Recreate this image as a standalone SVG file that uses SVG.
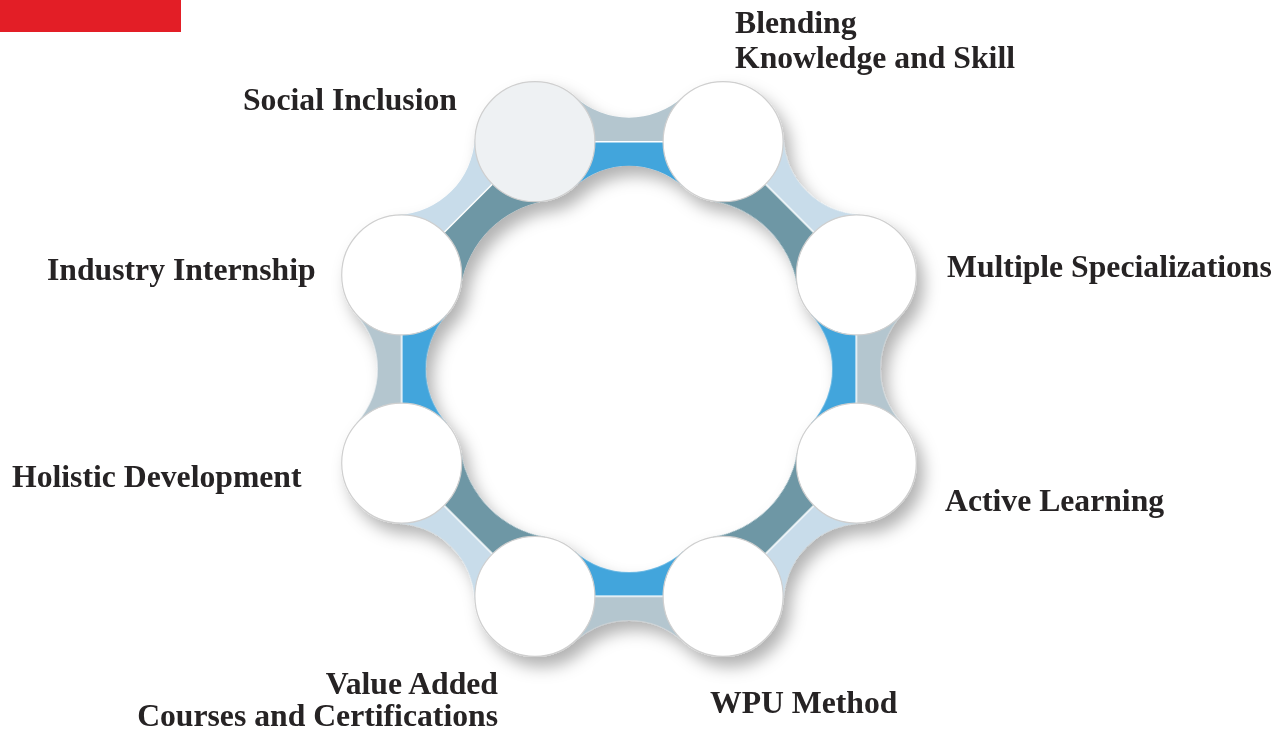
<svg xmlns="http://www.w3.org/2000/svg" width="1280" height="734" viewBox="0 0 1280 734">
<style>
.lbl{font-family:"Liberation Serif","Times New Roman",serif;font-weight:bold;font-size:31.7px;fill:#262324}
.node{fill:#ffffff;stroke:#cfcfcf;stroke-width:1.2}
.o1{fill:#b4c6cf}.i1{fill:#42a5dc}
.o2{fill:#c8dcea}.i2{fill:#6e97a5}
.div{stroke:#ffffff;stroke-width:1.5}
</style>
<defs>
<filter id="sh" x="-20%" y="-20%" width="140%" height="140%">
<feDropShadow dx="7" dy="10" stdDeviation="8" flood-color="#000" flood-opacity="0.3"/>
</filter>
<path id="outer" d="M-94,0 L-94,-44.65 L-53.9,-44.65 A80.7 80.7 0 0 0 53.9,-44.65 L94,-44.65 L94,0 Z"/>
<path id="inner" d="M-94,0 L-94,44.65 L-53.9,44.65 A80.7 80.7 0 0 1 53.9,44.65 L94,44.65 L94,0 Z"/>
<path id="innerW" d="M-94,0 L-94,48.9 L-59.25,48.9 A102.3 102.3 0 0 1 59.25,48.9 L94,48.9 L94,0 Z"/>
<g id="connA"><use href="#outer" class="o1"/><use href="#inner" class="i1"/><line class="div" x1="-94" y1="0" x2="94" y2="0"/></g>
<g id="connB"><use href="#outer" class="o2"/><use href="#innerW" class="i2"/><line class="div" x1="-94" y1="0" x2="94" y2="0"/></g>
</defs>
<rect x="0" y="0" width="181" height="32" fill="#e31e26"/>
<g filter="url(#sh)">
<g id="connectors">
<use href="#connA" transform="translate(629,141.7)"/>
<use href="#connB" transform="translate(789.7,208.3) rotate(45)"/>
<use href="#connA" transform="translate(856.3,369) rotate(90)"/>
<use href="#connB" transform="translate(789.7,529.7) rotate(135)"/>
<use href="#connA" transform="translate(629,596.3) rotate(180)"/>
<use href="#connB" transform="translate(468.3,529.7) rotate(225)"/>
<use href="#connA" transform="translate(401.7,369) rotate(270)"/>
<use href="#connB" transform="translate(468.3,208.3) rotate(315)"/>
</g>
<g id="n-social"><circle class="node" cx="534.9" cy="141.7" r="60" style="fill:#eef1f3"/></g>
<g id="n-blending"><circle class="node" cx="723.1" cy="141.7" r="60"/></g>
<g id="n-multiple"><circle class="node" cx="856.3" cy="274.9" r="60"/></g>
<g id="n-active"><circle class="node" cx="856.3" cy="463.1" r="60"/></g>
<g id="n-wpu"><circle class="node" cx="723.1" cy="596.3" r="60"/></g>
<g id="n-value"><circle class="node" cx="534.9" cy="596.3" r="60"/></g>
<g id="n-holistic"><circle class="node" cx="401.7" cy="463.1" r="60"/></g>
<g id="n-industry"><circle class="node" cx="401.7" cy="274.9" r="60"/></g>
</g>
<g id="labels">
<text class="lbl" x="243" y="110">Social Inclusion</text>
<text class="lbl" x="735" y="33">Blending</text>
<text class="lbl" x="735" y="68">Knowledge and Skill</text>
<text class="lbl" x="947" y="277">Multiple Specializations</text>
<text class="lbl" x="945" y="511">Active Learning</text>
<text class="lbl" x="710" y="713">WPU Method</text>
<text class="lbl" x="498" y="694" text-anchor="end">Value Added</text>
<text class="lbl" x="498" y="726" text-anchor="end">Courses and Certifications</text>
<text class="lbl" x="12" y="487">Holistic Development</text>
<text class="lbl" x="47" y="280">Industry Internship</text>
</g>
</svg>
